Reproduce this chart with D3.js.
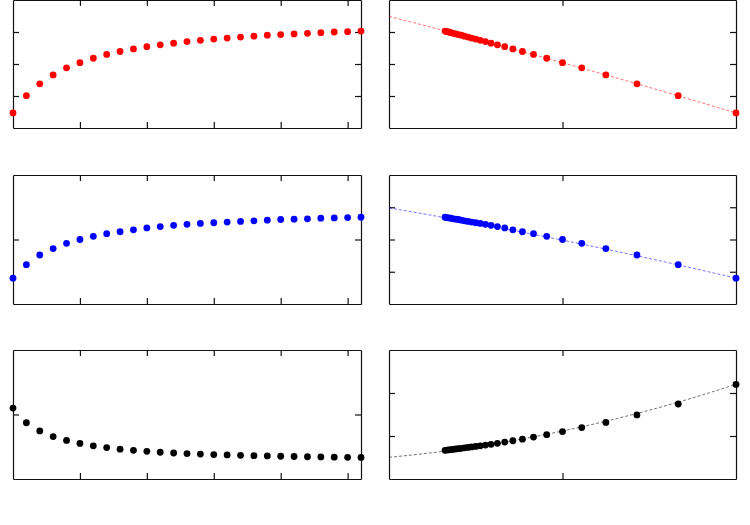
<!DOCTYPE html>
<meta charset="utf-8">
<style>
  body { margin: 0; background: #fff; }
</style>
<script src="https://cdn.jsdelivr.net/npm/d3@7"></script>
<div id="chart"></div>
<script>

// step index for the left column
var steps = [0,1,2,3,4,5,6,7,8,9,10,11,12,13,14,15,16,17,18,19,20,21,22,23,24,25,26];

// inverse step coordinate for the right column
var invX = [2.0, 1.667, 1.429, 1.25, 1.111, 1.0, 0.909, 0.833, 0.769, 0.714, 0.667, 0.625, 0.588,
            0.556, 0.526, 0.5, 0.476, 0.455, 0.435, 0.417, 0.4, 0.385, 0.370, 0.357, 0.345, 0.333, 0.323];

// series values
var redVals = [0.47, 1.01, 1.38, 1.66, 1.88, 2.04, 2.18, 2.30, 2.39, 2.47, 2.54, 2.60, 2.65, 2.70,
               2.74, 2.78, 2.81, 2.84, 2.87, 2.90, 2.92, 2.94, 2.96, 2.98, 3.00, 3.01, 3.03];
var blueVals = [0.40, 0.61, 0.76, 0.86, 0.94, 1.00, 1.05, 1.09, 1.12, 1.15, 1.18, 1.20, 1.22, 1.235,
                1.25, 1.26, 1.27, 1.28, 1.29, 1.30, 1.31, 1.315, 1.32, 1.33, 1.335, 1.34, 1.345];
var blackVals = [1.10, 0.872, 0.745, 0.658, 0.598, 0.551, 0.515, 0.487, 0.463, 0.445, 0.429, 0.415, 0.403,
                 0.394, 0.386, 0.379, 0.373, 0.367, 0.362, 0.357, 0.353, 0.349, 0.345, 0.342, 0.339, 0.336, 0.334];

// fitted curves in the right column
var fitX = [0, 0.25, 0.5, 0.75, 1, 1.25, 1.5, 1.75, 2];
var redFit = [3.49, 3.139, 2.78, 2.414, 2.04, 1.659, 1.27, 0.874, 0.47];
var blueFit = [1.49, 1.373, 1.251, 1.124, 0.99, 0.851, 0.706, 0.556, 0.40];
var blackFit = [0.252, 0.306, 0.375, 0.459, 0.558, 0.672, 0.80, 0.943, 1.101];

// tick values
var leftXTicks = [5, 10, 15, 20, 25];
var rightXTicks = [1];

var svg = d3.select("#chart")
  .append("svg")
    .attr("width", 750)
    .attr("height", 525);

var cols = [{x: 13, w: 348}, {x: 389, w: 347}];
var rows = [{y: 0, h: 128}, {y: 175, h: 129}, {y: 350, h: 129}];

var panels = [
  {row: 0, col: 0, xs: steps, ys: redVals, xDom: [0, 26], yDom: [0, 4], xt: leftXTicks, yt: [1, 2, 3], color: "#ff0000"},
  {row: 0, col: 1, xs: invX, ys: redVals, xDom: [0, 2], yDom: [0, 4], xt: rightXTicks, yt: [1, 2, 3], color: "#ff0000", fit: redFit},
  {row: 1, col: 0, xs: steps, ys: blueVals, xDom: [0, 26], yDom: [0, 2], xt: leftXTicks, yt: [1], color: "#0000ff"},
  {row: 1, col: 1, xs: invX, ys: blueVals, xDom: [0, 2], yDom: [0, 2], xt: rightXTicks, yt: [0.5, 1, 1.5], color: "#0000ff", fit: blueFit},
  {row: 2, col: 0, xs: steps, ys: blackVals, xDom: [0, 26], yDom: [0, 2], xt: leftXTicks, yt: [1], color: "#000000"},
  {row: 2, col: 1, xs: invX, ys: blackVals, xDom: [0, 2], yDom: [0, 1.5], xt: rightXTicks, yt: [0.5, 1], color: "#000000", fit: blackFit}
];

panels.forEach(function(p) {
  var c = cols[p.col], r = rows[p.row];
  var g = svg.append("g")
    .attr("transform", "translate(" + c.x + "," + r.y + ")");

  var x = d3.scaleLinear().domain(p.xDom).range([0, c.w]);
  var y = d3.scaleLinear().domain(p.yDom).range([r.h, 0]);

  // frame + inward ticks on all four sides
  var tick = 6;
  g.append("g").attr("transform", "translate(0," + r.h + ")")
    .call(d3.axisBottom(x).tickValues(p.xt).tickSizeInner(-tick).tickSizeOuter(0).tickFormat(""));
  g.append("g")
    .call(d3.axisTop(x).tickValues(p.xt).tickSizeInner(-tick).tickSizeOuter(0).tickFormat(""));
  g.append("g")
    .call(d3.axisLeft(y).tickValues(p.yt).tickSizeInner(-tick).tickSizeOuter(0).tickFormat(""));
  g.append("g").attr("transform", "translate(" + c.w + ",0)")
    .call(d3.axisRight(y).tickValues(p.yt).tickSizeInner(-tick).tickSizeOuter(0).tickFormat(""));
  g.selectAll(".domain, .tick line").attr("stroke", "#111").attr("stroke-width", 1.2);

  // dashed fit curve
  if (p.fit) {
    var line = d3.line()
      .x(function(d, i) { return x(fitX[i]); })
      .y(function(d) { return y(d); })
      .curve(d3.curveMonotoneX);
    g.append("path")
      .datum(p.fit)
      .attr("d", line)
      .attr("fill", "none")
      .attr("stroke", p.color)
      .attr("stroke-opacity", 0.55)
      .attr("stroke-width", 1)
      .attr("stroke-dasharray", "3,2");
  }

  // dots
  g.append("g")
    .selectAll("circle")
    .data(p.ys)
    .enter()
    .append("circle")
      .attr("cx", function(d, i) { return x(p.xs[i]); })
      .attr("cy", function(d) { return y(d); })
      .attr("r", 3.4)
      .style("fill", p.color);
});

</script>
